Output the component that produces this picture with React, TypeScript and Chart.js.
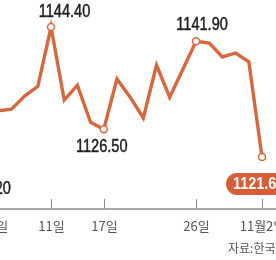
import React, { useEffect, useRef } from "react";
import { Chart, registerables } from "chart.js";

Chart.register(...registerables);

// Trading days, Oct 2 – Nov 2 (2018)
const categories = ["10/2", "10/4", "10/5", "10/8", "10/10", "10/11", "10/12", "10/15", "10/16", "10/17", "10/18", "10/19", "10/22", "10/23", "10/24", "10/25", "10/26", "10/29", "10/30", "10/31", "11/1", "11/2"];
// Won per dollar
const rates = [1120.2, 1129.7, 1130.0, 1132.3, 1134.0, 1144.4, 1131.6, 1134.2, 1127.7, 1126.5, 1135.3, 1132.1, 1128.45, 1137.7, 1132.1, 1137.0, 1141.9, 1141.6, 1139.15, 1139.85, 1138.3, 1121.6];
const tickCategories = ["10/4", "10/11", "10/17", "10/26", "11/2"];
const tickLabels = ["4일", "11일", "17일", "26일", "11월2일"];
const labeledCategories = ["10/2", "10/11", "10/17", "10/26", "11/2"];
const sourceText = "자료:한국은행";

const LINE = "#d6683e";
const PILL = "#d65d36";
const NUM_FONT = '"Liberation Sans", Arial, sans-serif';
const KR_FONT = '"Noto Sans CJK KR", sans-serif';

// label placement (style): offsets from point, pixels
const labelStyle: Record<string, { dx: number; dy: number; pill?: boolean }> = {
  "10/2": { dx: 0, dy: 24 },
  "10/11": { dx: 13.5, dy: -15.5 },
  "10/17": { dx: -2, dy: 18 },
  "10/26": { dx: 6, dy: -16 },
  "11/2": { dx: -36, dy: 16, pill: true },
};

function squeezedText(ctx: CanvasRenderingContext2D, text: string, x: number, y: number, align: "left" | "center", sx: number, stroke: number) {
  ctx.save();
  ctx.translate(x, y);
  ctx.scale(sx, 1);
  ctx.textAlign = align;
  if (stroke > 0) {
    ctx.lineWidth = stroke;
    ctx.strokeStyle = ctx.fillStyle;
    ctx.lineJoin = "round";
    ctx.strokeText(text, 0, 0);
  }
  ctx.fillText(text, 0, 0);
  ctx.restore();
}

const overlay = {
  id: "overlay",
  beforeDatasetsDraw(chart: any) {
    const { ctx, chartArea } = chart;
    const x = chart.scales.x;
    const bottom = chartArea.bottom;
    ctx.save();
    ctx.strokeStyle = "#8d8d8d";
    ctx.lineWidth = 1.5;
    ctx.beginPath();
    ctx.moveTo(0, bottom);
    ctx.lineTo(chart.width, bottom);
    ctx.stroke();
    ctx.lineWidth = 1;
    ctx.font = "13px " + KR_FONT;
    ctx.fillStyle = "#555";
    ctx.textAlign = "center";
    ctx.textBaseline = "middle";
    tickCategories.forEach((c, i) => {
      const px = Math.round(x.getPixelForValue(categories.indexOf(c))) + 0.5;
      ctx.beginPath();
      ctx.moveTo(px, bottom - 10);
      ctx.lineTo(px, bottom);
      ctx.stroke();
      ctx.fillText(tickLabels[i], px, bottom + 17);
    });
    ctx.font = "12px " + KR_FONT;
    ctx.textAlign = "left";
    ctx.fillText(sourceText, 268, 248);
    ctx.restore();
  },
  afterDatasetsDraw(chart: any) {
    const { ctx } = chart;
    const x = chart.scales.x;
    const y = chart.scales.y;
    ctx.save();
    labeledCategories.forEach((c) => {
      const i = categories.indexOf(c);
      const px = x.getPixelForValue(i);
      const py = y.getPixelForValue(rates[i]);
      const st = labelStyle[c];
      const text = rates[i].toFixed(2);
      ctx.textBaseline = "middle";
      if (st.pill) {
        ctx.font = "bold 16px " + NUM_FONT;
        const w = ctx.measureText(text).width * 0.9 + 14;
        const left = px + st.dx;
        const top = py + st.dy;
        const h = 22;
        ctx.fillStyle = PILL;
        ctx.beginPath();
        ctx.roundRect(left, top, w, h, 11);
        ctx.fill();
        ctx.fillStyle = "#fff";
        squeezedText(ctx, text, left + 7, top + h / 2 + 1, "left", 0.9, 0);
      } else {
        ctx.font = "18px " + NUM_FONT;
        ctx.fillStyle = "#1e1e1e";
        squeezedText(ctx, text, px + st.dx, py + st.dy, "center", 0.81, 0.5);
      }
    });
    ctx.restore();
  },
};

export default function App() {
  const ref = useRef<HTMLCanvasElement | null>(null);
  useEffect(() => {
    document.body.style.margin = "0";
    document.body.style.overflow = "hidden";
    const labeled = new Set(labeledCategories.map((c) => categories.indexOf(c)));
    const chart = new Chart(ref.current as HTMLCanvasElement, {
      type: "line",
      data: {
        labels: categories,
        datasets: [
          {
            data: rates,
            borderColor: LINE,
            borderWidth: 3.4,
            tension: 0,
            fill: false,
            clip: false as any,
            pointRadius: (c: any) => (labeled.has(c.dataIndex) ? 3.5 : 0),
            pointBackgroundColor: "#fff",
            pointBorderColor: LINE,
            pointBorderWidth: 1.5,
          },
        ],
      },
      options: {
        responsive: false,
        animation: false,
        layout: { padding: { left: 25.1, right: 54, top: 6.5, bottom: 51 } },
        plugins: { legend: { display: false }, tooltip: { enabled: false } },
        scales: {
          x: { type: "category", display: false, offset: false },
          y: { type: "linear", display: false, min: 1112.5, max: 1148 },
        },
      },
      plugins: [overlay],
    });
    return () => chart.destroy();
  }, []);
  return (
    <canvas
      ref={ref}
      width={356}
      height={260}
      style={{ position: "fixed", left: -40, top: 0, width: 356, height: 260 }}
    />
  );
}
